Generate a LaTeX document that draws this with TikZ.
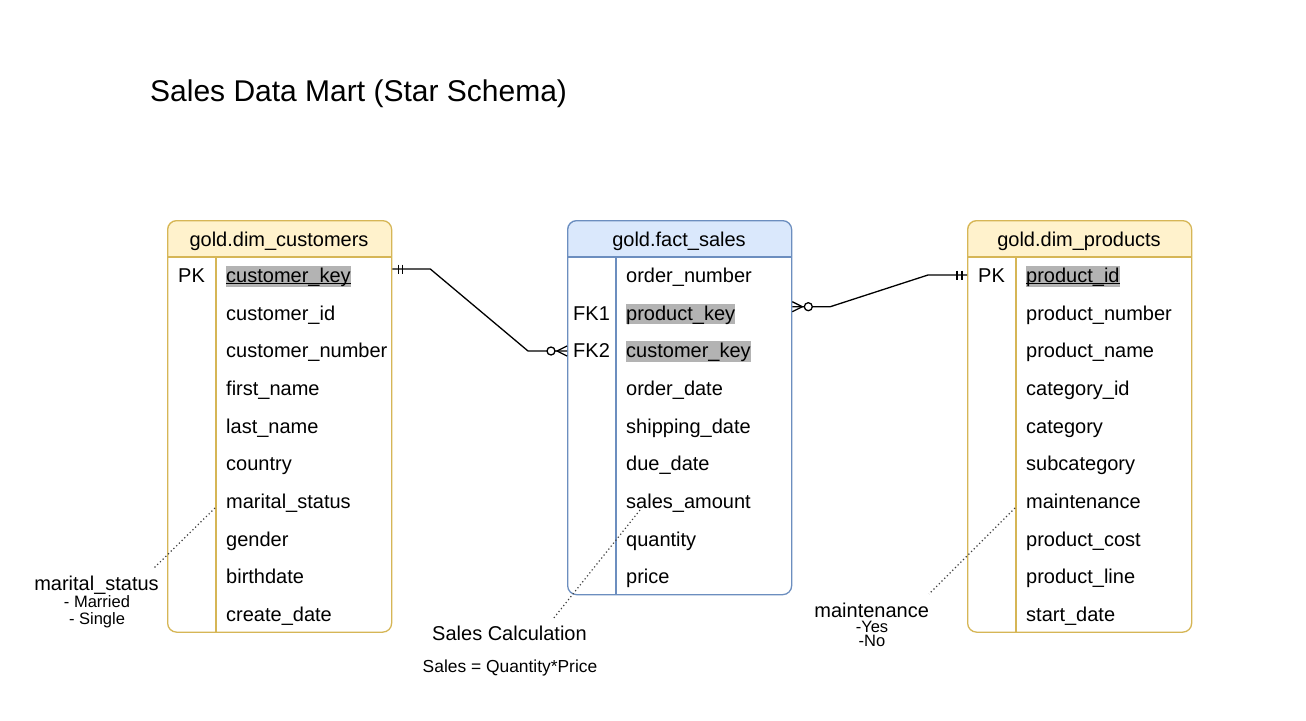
\documentclass[tikz,border=0pt]{standalone}
\usepackage{fontspec}
\setmainfont{Liberation Sans}
\usetikzlibrary{calc}
\definecolor{yfill}{HTML}{FFF2CC}
\definecolor{ystroke}{HTML}{D6B656}
\definecolor{bfill}{HTML}{DAE8FC}
\definecolor{bstroke}{HTML}{6C8EBF}
\definecolor{hl}{HTML}{B3B3B3}
\tikzset{
  fld/.style={anchor=base west, inner sep=0pt, text height=16.5pt, text depth=4pt, font=\fontsize{20}{24}\selectfont},
  keyfld/.style={fld, fill=hl},
  hdrtext/.style={anchor=base, inner sep=0pt, font=\fontsize{20}{24}\selectfont},
  tablebox/.style={draw=#1, line width=1.3pt, rounded corners=9pt, anchor=north west, minimum width=224pt, inner sep=0pt},
  conn/.style={line width=1.3pt, black},
  annot/.style={anchor=base, inner sep=0pt, font=\fontsize{20}{24}\selectfont},
  subannot/.style={anchor=base, inner sep=0pt, font=\fontsize{16.5}{20}\selectfont},
  dotline/.style={line width=1.2pt, dash pattern=on 1.2pt off 2.6pt, black!75},
  inner/.style={draw=#1, line width=1.3pt},
}
\begin{document}
\begin{tikzpicture}[x=1pt, y=-1pt]
\fill[white] (0,0) rectangle (1306,720);
\useasboundingbox (0,0) rectangle (1306,720);

% title
\node[anchor=base west, inner sep=0pt, font=\fontsize{30}{36}\selectfont] (title) at (150,101.5) {Sales Data Mart (Star Schema)};

% ---------- customers table ----------
\begin{scope}
  \clip[rounded corners=9pt] (167,220) rectangle (391,631.5);
  \fill[yfill] (167,220) rectangle (391,257);
\end{scope}
\node[tablebox=ystroke, minimum height=411.5pt] (cust) at (167,220) {};
\draw[inner=ystroke] (167,257) -- (391,257);
\draw[inner=ystroke] (216,257) -- (216,631.5);
\node[hdrtext] (custh) at (279,246.5) {gold.dim\_customers};
\node[fld] (custpk) at (178,282.5) {PK};
\node[keyfld] (ck) at (226,282.5) {customer\_key};
\draw[line width=1.2pt] ([yshift=-1pt]ck.base west) -- ([yshift=-1pt]ck.base east);
\foreach \t [count=\i] in {customer\_id, customer\_number, first\_name, last\_name, country, marital\_status, gender, birthdate, create\_date}
  \node[fld] (cf\i) at (226,{282.5+37.65*\i}) {\t};

% ---------- fact table ----------
\begin{scope}
  \clip[rounded corners=9pt] (567,220) rectangle (791,594);
  \fill[bfill] (567,220) rectangle (791,257);
\end{scope}
\node[tablebox=bstroke, minimum height=374pt] (fact) at (567,220) {};
\draw[inner=bstroke] (567,257) -- (791,257);
\draw[inner=bstroke] (616,257) -- (616,594);
\node[hdrtext] (facth) at (679,246.5) {gold.fact\_sales};
\node[fld] (ff0) at (626,282.5) {order\_number};
\node[fld] (fk1) at (573,{282.5+37.65}) {FK1};
\node[keyfld] (ff1) at (626,{282.5+37.65}) {product\_key};
\node[fld] (fk2) at (573,{282.5+2*37.65}) {FK2};
\node[keyfld] (ff2) at (626,{282.5+2*37.65}) {customer\_key};
\foreach \t [count=\i from 3] in {order\_date, shipping\_date, due\_date, sales\_amount, quantity, price}
  \node[fld] (ff\i) at (626,{282.5+37.65*\i}) {\t};

% ---------- products table ----------
\begin{scope}
  \clip[rounded corners=9pt] (967,220) rectangle (1191,631.5);
  \fill[yfill] (967,220) rectangle (1191,257);
\end{scope}
\node[tablebox=ystroke, minimum height=411.5pt] (prod) at (967,220) {};
\draw[inner=ystroke] (967,257) -- (1191,257);
\draw[inner=ystroke] (1016,257) -- (1016,631.5);
\node[hdrtext] (prodh) at (1079,246.5) {gold.dim\_products};
\node[fld] (prodpk) at (978,282.5) {PK};
\node[keyfld] (pk) at (1026,282.5) {product\_id};
\draw[line width=1.2pt] ([yshift=-1pt]pk.base west) -- ([yshift=-1pt]pk.base east);
\foreach \t [count=\i] in {product\_number, product\_name, category\_id, category, subcategory, maintenance, product\_cost, product\_line, start\_date}
  \node[fld] (pf\i) at (1026,{282.5+37.65*\i}) {\t};

% ---------- relationships ----------
\coordinate (c1a) at ([yshift=-49pt]cust.north east);
\coordinate (c1b) at ([yshift=-131pt]fact.north west);
\draw[conn] (c1a) -- ++(38,0) -- ($(c1b)+(-39,0)$) -- (c1b);
\draw[conn] ($(c1a)+(6,-4.5)$) -- ++(0,9);
\draw[conn] ($(c1a)+(10,-4.5)$) -- ++(0,9);
\draw[conn] ($(c1b)+(0,-5)$) -- ($(c1b)+(-10,0)$) -- ($(c1b)+(0,5)$);
\draw[conn, fill=white] ($(c1b)+(-16,0)$) circle[radius=4pt];

\coordinate (c2a) at ([yshift=-86.7pt]fact.north east);
\coordinate (c2b) at ([yshift=-55pt]prod.north west);
\draw[conn] (c2a) -- ++(38,0) -- ($(c2b)+(-39,0)$) -- (c2b);
\draw[conn] ($(c2a)+(0,-5)$) -- ($(c2a)+(10,0)$) -- ($(c2a)+(0,5)$);
\draw[conn, fill=white] ($(c2a)+(16,0)$) circle[radius=4pt];
\draw[conn] ($(c2b)+(-10,-4.5)$) -- ++(0,9);
\draw[conn] ($(c2b)+(-5,-4.5)$) -- ++(0,9);

% ---------- annotations ----------
\node[annot] (ms) at (96.5,590) {marital\_status};
\node[subannot] (ms1) at (97,607) {- Married};
\node[subannot] (ms2) at (97,624) {- Single};
\coordinate (msA) at (215,508);
\coordinate (msB) at (153,569);
\draw[dotline] (msA) -- (msB);

\node[annot] (sc) at (509.5,640) {Sales Calculation};
\node[anchor=base, inner sep=0pt, font=\fontsize{17.4}{20}\selectfont] (scf) at (510,672.5) {Sales = Quantity*Price};
\coordinate (scA) at (640,510);
\coordinate (scB) at (553,619);
\draw[dotline] (scA) -- (scB);

\node[annot] (mt) at (871.7,617) {maintenance};
\node[subannot] (mt1) at (872,632) {-Yes};
\node[subannot] (mt2) at (872,646) {-No};
\coordinate (mtA) at (1015,508);
\coordinate (mtB) at (929,594);
\draw[dotline] (mtA) -- (mtB);
\end{tikzpicture}
\end{document}
